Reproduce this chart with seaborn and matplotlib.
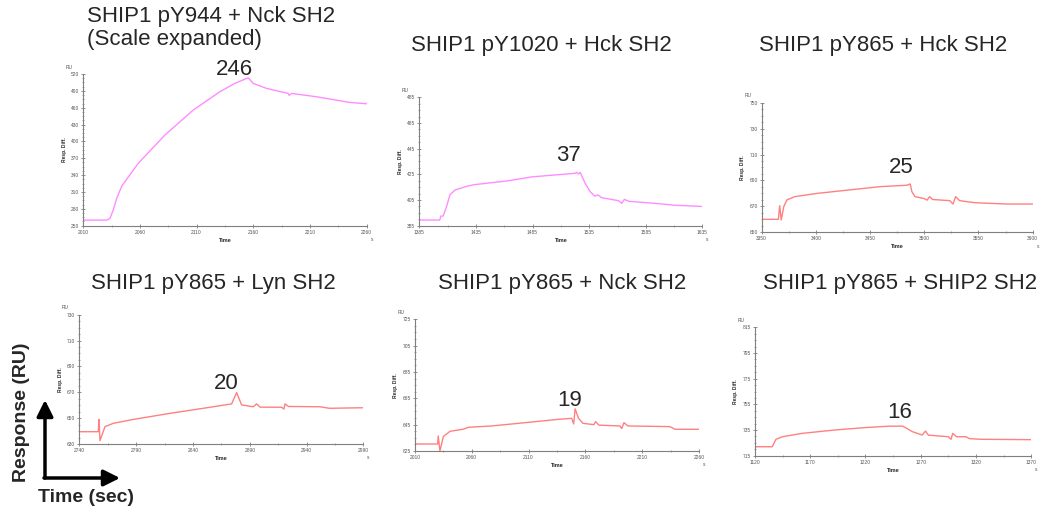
import numpy as np
import matplotlib
matplotlib.use("Agg")
import matplotlib.pyplot as plt
from matplotlib.ticker import AutoMinorLocator
import seaborn as sns
import pandas as pd

# --- data (time in s, response in RU) ---
t_944_nck = [2010, 2030.6, 2033.5, 2036.5, 2039.5, 2044, 2058.5, 2082, 2107, 2130.5, 2143.6,
             2154, 2155.5, 2160, 2171.7, 2190.8, 2191.7, 2193.8, 2215.8, 2245, 2260]
r_944_nck = [260, 260, 263, 278, 298.7, 320.6, 361, 411.3, 455.8, 488.4, 503.2,
             512, 513.2, 503.2, 494.4, 485.5, 482, 485.5, 479.5, 469.5, 467]

t_1020_hck = [1385, 1403, 1404, 1406, 1409, 1412, 1416.5, 1428, 1434, 1463.6, 1484, 1522.5,
              1524, 1525.5, 1527, 1531.4, 1535.8, 1540, 1542.6, 1546, 1560.8, 1563.7, 1566,
              1570, 1593, 1610.8, 1635]
r_1020_hck = [389.4, 389.4, 392.5, 392.5, 399.8, 409, 412.8, 416, 417, 420, 423, 425.8,
              426.5, 425.3, 426.5, 418, 411.5, 408, 409, 406.8, 404.5, 402.4, 405.5,
              404, 402.4, 400.9, 400]

t_865_hck = [3350, 3365.4, 3366.6, 3368, 3370.4, 3373.3, 3380.6, 3401, 3430, 3459, 3484,
             3487, 3488.6, 3491.5, 3500, 3502.6, 3505, 3507.6, 3523.6, 3526.5, 3529, 3532.6,
             3547, 3576, 3600]
r_865_hck = [660, 660, 670.5, 659.5, 669.8, 675, 677.5, 680, 682.6, 685.2, 686.3,
             687.3, 681.3, 677.5, 676, 674.8, 677.5, 675.3, 674.4, 671.8, 677.5, 674.4,
             672.8, 671.8, 671.8]

t_865_lyn = [2740, 2756.7, 2757.3, 2758.2, 2762.6, 2770, 2787.5, 2819.8, 2849, 2874, 2878.4,
             2882.8, 2893, 2896, 2899, 2918, 2920, 2921, 2924, 2951.7, 2960, 2987, 2990]
r_865_lyn = [639.5, 639.5, 649, 632.6, 643.4, 646, 649, 653.7, 657.6, 661, 669.7,
             660.2, 658.8, 661, 658.5, 658.4, 657, 661, 659, 658.8, 657.6, 658, 658]

t_865_nck = [2010, 2030, 2030.5, 2032, 2035, 2041, 2052.5, 2057, 2077.5, 2107, 2136, 2148,
             2149.7, 2151, 2154, 2158, 2167.5, 2169, 2172, 2190.5, 2192, 2194, 2197.5,
             2234.5, 2239, 2260]
r_865_nck = [630.3, 630.3, 636.4, 625, 636, 640, 641.5, 643, 644, 646.5, 649, 649.8,
             645.5, 657, 649.8, 646, 645, 647.3, 644.6, 644, 642, 646.5, 644,
             643.5, 641.5, 641.5]

t_865_ship2 = [1120, 1135.6, 1139, 1145, 1162.6, 1192, 1221.4, 1242, 1253.8, 1262.6, 1271.4,
               1274.3, 1277, 1295, 1297.5, 1299, 1302.5, 1311, 1314, 1324, 1370]
r_865_ship2 = [722, 722, 727.8, 729.8, 732.4, 735, 737, 738, 738, 733.7, 731.1,
               734.2, 731, 729.8, 727.8, 732.4, 729.8, 729.8, 728.3, 727.8, 727.5]

titles = ["SHIP1 pY944 + Nck SH2\n(Scale expanded)", "SHIP1 pY1020 + Hck SH2",
          "SHIP1 pY865 + Hck SH2", "SHIP1 pY865 + Lyn SH2",
          "SHIP1 pY865 + Nck SH2", "SHIP1 pY865 + SHIP2 SH2"]
labels = ["246", "37", "25", "20", "19", "16"]
label_pos = [(2143.8, 528.9), (1517, 439.7), (3479, 700), (2869, 676.4), (2146.4, 663.7), (1251.4, 748.3)]
xlims = [(2010, 2260), (1385, 1635), (3350, 3600), (2740, 2990), (2010, 2260), (1120, 1370)]
ylims = [(250, 520), (385, 485), (650, 750), (630, 730), (625, 725), (715, 815)]
ysteps = [30, 20, 20, 20, 20, 20]

series = [(t_944_nck, r_944_nck), (t_1020_hck, r_1020_hck), (t_865_hck, r_865_hck),
          (t_865_lyn, r_865_lyn), (t_865_nck, r_865_nck), (t_865_ship2, r_865_ship2)]
colors = ["#ff8cff", "#ff8cff", "#ff8080", "#ff8080", "#ff8080", "#ff8080"]

# axes boxes in figure fractions
boxes = [[0.0796, 0.5609, 0.2709, 0.2951], [0.4009, 0.5609, 0.2707, 0.2498],
         [0.7282, 0.5481, 0.2590, 0.2521], [0.0758, 0.1362, 0.2717, 0.2516],
         [0.3967, 0.1226, 0.2715, 0.2562], [0.7218, 0.1134, 0.2640, 0.2498]]

sns.set_style("ticks")
plt.rcParams['font.family'] = ['Liberation Sans', 'DejaVu Sans']

fig = plt.figure(figsize=(10.46, 5.14), dpi=100)
grey = "#7f7f7f"

for i in range(6):
    ax = fig.add_axes(boxes[i])
    df = pd.DataFrame({"Time": series[i][0], "Resp": series[i][1]})
    sns.lineplot(data=df, x="Time", y="Resp", ax=ax, color=colors[i], linewidth=1.0)
    ax.set_xlim(*xlims[i])
    ax.set_ylim(*ylims[i])
    ax.set_xticks(np.arange(xlims[i][0], xlims[i][1] + 1, 50))
    ax.set_yticks(np.arange(ylims[i][0], ylims[i][1] + 1, ysteps[i]))
    ax.xaxis.set_minor_locator(AutoMinorLocator(2))
    ax.yaxis.set_minor_locator(AutoMinorLocator(4))
    for s in ["top", "right"]:
        ax.spines[s].set_visible(False)
    for s in ["left", "bottom"]:
        ax.spines[s].set_color(grey)
        ax.spines[s].set_linewidth(0.8)
    ax.tick_params(which="major", length=3, width=0.6, color=grey, labelsize=3.5,
                   labelcolor="#555555", pad=1.5, direction="inout")
    ax.tick_params(which="minor", length=1.5, width=0.5, color=grey, direction="inout")
    ax.set_xlabel("Time", fontsize=4, fontweight="bold", labelpad=2)
    ax.set_ylabel("Resp. Diff.", fontsize=3.5, fontweight="bold", labelpad=3)
    ax.annotate("RU", xy=(0, 1), xycoords="axes fraction", xytext=(-14, 7),
                textcoords="offset pixels", fontsize=3.5, color="#555555", ha="center", va="center")
    ax.annotate("s", xy=(1, 0), xycoords="axes fraction", xytext=(5, -14),
                textcoords="offset pixels", fontsize=3.5, color="#555555", ha="center", va="center")
    ax.text(label_pos[i][0], label_pos[i][1], labels[i], fontsize=16, ha="center",
            va="center", clip_on=False)

# panel titles
fig.text(87 / 1046, 1 - 28 / 514, titles[0], fontsize=16, ha="left", va="center", linespacing=1.15)
fig.text(541 / 1046, 1 - 45 / 514, titles[1], fontsize=16, ha="center", va="center")
fig.text(883 / 1046, 1 - 45 / 514, titles[2], fontsize=16, ha="center", va="center")
fig.text(213 / 1046, 1 - 283 / 514, titles[3], fontsize=16, ha="center", va="center")
fig.text(562 / 1046, 1 - 283 / 514, titles[4], fontsize=16, ha="center", va="center")
fig.text(900 / 1046, 1 - 283 / 514, titles[5], fontsize=16, ha="center", va="center")

# axis-direction arrows on the left
fig.text(22 / 1046, 1 - 412 / 514, "Response (RU)", fontsize=14, fontweight="bold",
         rotation=90, ha="center", va="center")
fig.text(86 / 1046, 1 - 497 / 514, "Time (sec)", fontsize=14, fontweight="bold",
         ha="center", va="center")
arrow_kw = dict(arrowstyle="-|>,head_length=0.7,head_width=0.35", color="black", lw=2.5,
                shrinkA=0, shrinkB=0)
fig.patches.append(matplotlib.patches.FancyArrowPatch(
    (45 / 1046, 1 - 478 / 514), (45 / 1046, 1 - 400 / 514),
    transform=fig.transFigure, mutation_scale=14, **arrow_kw))
fig.patches.append(matplotlib.patches.FancyArrowPatch(
    (44 / 1046, 1 - 478 / 514), (120 / 1046, 1 - 478 / 514),
    transform=fig.transFigure, mutation_scale=14, **arrow_kw))

fig.savefig("out.png", dpi=100, facecolor="white")
